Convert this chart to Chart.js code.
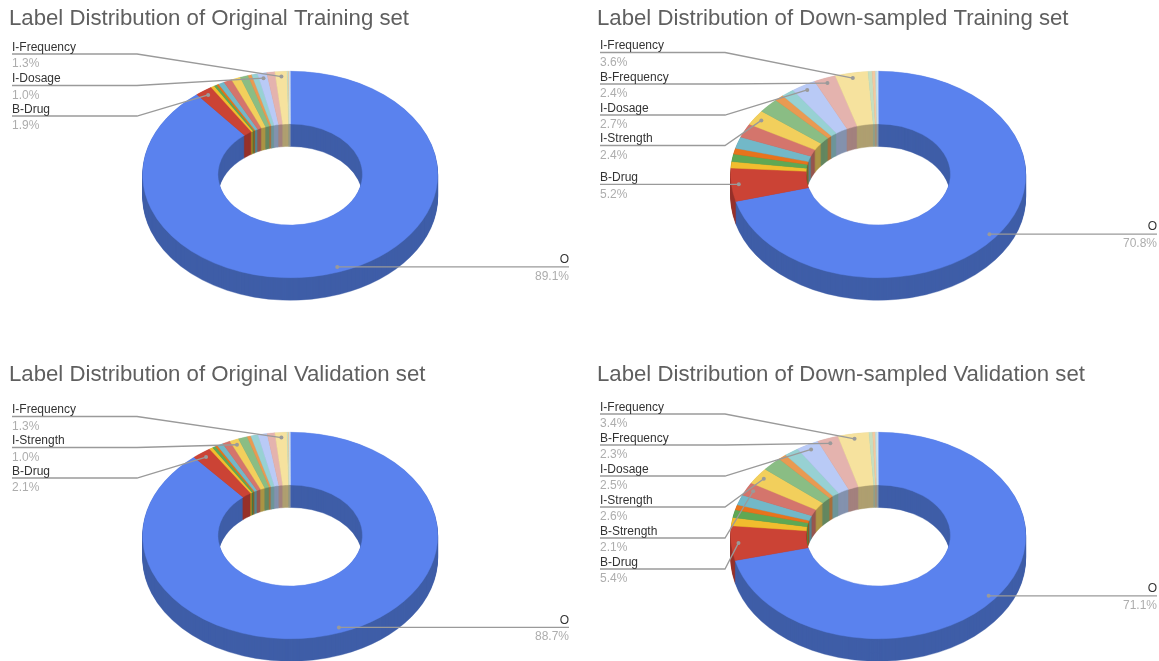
<!DOCTYPE html>
<html>
<head>
<meta charset="utf-8">
<title>Label Distribution</title>
<script src="https://cdn.jsdelivr.net/npm/chart.js@4"></script>
<style>
html, body { margin: 0; padding: 0; background: #fff; overflow: hidden; }
.box { position: absolute; width: 580px; height: 306px; }
</style>
</head>
<body>
<div class="box" style="left:0;top:0"><canvas id="c1" width="580" height="306"></canvas></div>
<div class="box" style="left:588px;top:0"><canvas id="c2" width="580" height="306"></canvas></div>
<div class="box" style="left:0;top:356px"><canvas id="c3" width="580" height="306"></canvas></div>
<div class="box" style="left:588px;top:356px"><canvas id="c4" width="580" height="306"></canvas></div>
<script>
// only some of these names are readable in the picture, the small slices have no label
var categories = ['O', 'B-Drug', 'I-Drug', 'B-Form', 'I-Form', 'B-Route', 'B-Strength', 'I-Strength', 'B-Dosage',
    'I-Route', 'B-Duration', 'I-Dosage', 'B-Frequency', 'I-Frequency', 'I-Duration', 'B-Reason', 'I-Reason', 'B-ADE'];

var originalTrain = [89.1, 1.9, 0.4, 0.3, 0.25, 0.65, 0.9, 1.0, 0.9, 0.4, 0.65, 1.0, 0.9, 1.3, 0.15, 0.1, 0.05, 0.05];
var downTrain = [70.8, 5.2, 1.0, 1.2, 0.9, 1.8, 2.2, 2.4, 2.3, 1.0, 1.4, 2.7, 2.4, 3.6, 0.45, 0.35, 0.2, 0.1];
var originalVal = [88.7, 2.1, 0.4, 0.35, 0.25, 0.65, 0.85, 1.0, 1.0, 0.4, 0.8, 1.0, 0.85, 1.3, 0.15, 0.1, 0.05, 0.05];
var downVal = [71.1, 5.4, 1.3, 1.2, 0.8, 1.6, 2.1, 2.6, 2.2, 0.9, 1.6, 2.5, 2.3, 3.4, 0.4, 0.3, 0.2, 0.1];

var sliceColors = ['#5a82ee', '#cb4335', '#f1bd2e', '#5fa854', '#e8731c', '#72b8c8', '#d4756c', '#f2cf5c', '#8abd84',
    '#e99a52', '#97d1d3', '#b9caf6', '#e4b3ae', '#f6e29e', '#c5dfc0', '#f3c9a0', '#bfe3e3', '#d9e4f7'];
var sideColors = ['#3f5ea8', '#97312a', '#ab8a24', '#46793f', '#a65418', '#55858f', '#97564f', '#ab9444', '#648760',
    '#a66f3c', '#6d9598', '#8492ae', '#a3817e', '#af9f70', '#8ea08a', '#ad9073', '#89a2a2', '#9aa3b0'];

// left side callouts: category and the y of its leader line, null means level with the dot
var rows1 = [['I-Frequency', 54], ['I-Dosage', 85.5], ['B-Drug', 116]];
var rows2 = [['I-Frequency', 52.5], ['B-Frequency', 84], ['I-Dosage', 115], ['I-Strength', 145.5], ['B-Drug', null]];
var rows3 = [['I-Frequency', 60.5], ['I-Strength', 91.5], ['B-Drug', 122]];
var rows4 = [['I-Frequency', 58], ['B-Frequency', 89], ['I-Dosage', 120], ['I-Strength', 151], ['B-Strength', 182], ['B-Drug', 213]];

var font = '"Liberation Sans", Arial, sans-serif';
var cx = 290.2, squash = 0.7, depth = 22.5, outer = 147.5;

function dotOf(arc, cy) {
    var mid = (arc.startAngle + arc.endAngle) / 2;
    var r = outer * 0.95;
    return { x: cx + r * Math.cos(mid), y: cy + r * squash * Math.sin(mid) };
}

function place(ctx, arc, cy, down) {
    ctx.translate(cx, cy + down);
    ctx.scale(1, squash);
    ctx.translate(-arc.x, -arc.y);
}

var donut3d = {
    id: 'donut3d',
    beforeDatasetsDraw: function(chart, args, opts) {
        var ctx = chart.ctx;
        var arcs = chart.getDatasetMeta(0).data;
        // side walls: same arcs stacked from the bottom up in the dark colour
        for (var d = depth; d >= 0.5; d--) {
            arcs.forEach(function(arc, i) {
                var shade = Object.create(arc);
                shade.options = Object.assign({}, arc.options, { backgroundColor: sideColors[i], borderColor: sideColors[i] });
                ctx.save();
                place(ctx, arc, opts.cy, d);
                shade.draw(ctx);
                ctx.restore();
            });
        }
        ctx.save();
        place(ctx, arcs[0], opts.cy, 0);
    },
    afterDatasetsDraw: function(chart, args, opts) {
        var ctx = chart.ctx;
        ctx.restore();
        var arcs = chart.getDatasetMeta(0).data;
        var values = chart.data.datasets[0].data;

        ctx.lineWidth = 1.3;
        ctx.strokeStyle = '#9a9a9a';
        ctx.fillStyle = '#9a9a9a';

        // O goes to the right, always flat
        var p = dotOf(arcs[0], opts.cy);
        ctx.beginPath();
        ctx.moveTo(p.x, p.y);
        ctx.lineTo(569, p.y);
        ctx.stroke();
        ctx.beginPath();
        ctx.arc(p.x, p.y, 2, 0, Math.PI * 2);
        ctx.fill();
        ctx.font = '12px ' + font;
        ctx.textBaseline = 'middle';
        ctx.textAlign = 'right';
        ctx.fillStyle = '#333';
        ctx.fillText(categories[0], 569, p.y - 7);
        ctx.fillStyle = '#adadad';
        ctx.fillText(values[0].toFixed(1) + '%', 569, p.y + 9.5);

        opts.rows.forEach(function(row) {
            var i = categories.indexOf(row[0]);
            var dot = dotOf(arcs[i], opts.cy);
            var y = row[1] === null ? dot.y : row[1];
            ctx.strokeStyle = '#9a9a9a';
            ctx.fillStyle = '#9a9a9a';
            ctx.beginPath();
            ctx.moveTo(12, y);
            ctx.lineTo(137, y);
            ctx.lineTo(dot.x, dot.y);
            ctx.stroke();
            ctx.beginPath();
            ctx.arc(dot.x, dot.y, 2, 0, Math.PI * 2);
            ctx.fill();
            ctx.textAlign = 'left';
            ctx.fillStyle = '#333';
            ctx.fillText(row[0], 12, y - 6.5);
            ctx.fillStyle = '#adadad';
            ctx.fillText(values[i].toFixed(1) + '%', 12, y + 10);
        });
    }
};

function makeChart(id, title, values, rows, cy) {
    var ctx = document.getElementById(id);
    return new Chart(ctx, {
        type: 'doughnut',
        plugins: [donut3d],
        data: {
            labels: categories,
            datasets: [{
                label: title,
                data: values,
                backgroundColor: sliceColors,
                borderColor: sliceColors,
                borderWidth: 0.5,
                clip: false
            }]
        },
        options: {
            responsive: false,
            animation: false,
            radius: outer,
            cutout: '49%',
            layout: { padding: { left: 9 } },
            plugins: {
                legend: { display: false },
                tooltip: { enabled: false },
                donut3d: { rows: rows, cy: cy },
                title: {
                    display: true,
                    text: title,
                    align: 'start',
                    color: '#5f5f5f',
                    font: { family: font, size: 22.2, weight: 'normal' },
                    padding: { top: 6, bottom: 4 }
                }
            }
        }
    });
}

makeChart('c1', 'Label Distribution of Original Training set', originalTrain, rows1, 174.5);
makeChart('c2', 'Label Distribution of Down-sampled Training set', downTrain, rows2, 174.5);
makeChart('c3', 'Label Distribution of Original Validation set', originalVal, rows3, 179.5);
makeChart('c4', 'Label Distribution of Down-sampled Validation set', downVal, rows4, 179.5);
</script>
</body>
</html>
